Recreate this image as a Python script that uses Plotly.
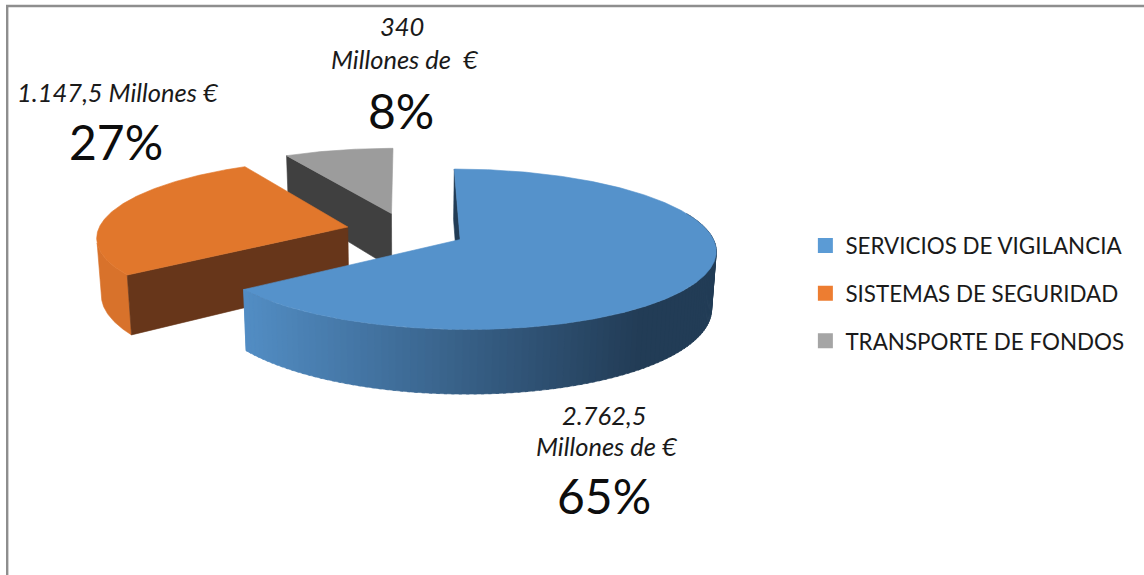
import math
import plotly.graph_objects as go

# ---- data ----
categories = ["SERVICIOS DE VIGILANCIA", "SISTEMAS DE SEGURIDAD", "TRANSPORTE DE FONDOS"]
values = [2762.5, 1147.5, 340.0]
percent_labels = ["65%", "27%", "8%"]
amount_lines = [["2.762,5", "Millones de €"],
                ["1.147,5 Millones €"],
                ["340", "Millones de\u00a0 €"]]
legend_colors = ["#5b9bd5", "#ed7d31", "#a5a5a5"]
top_colors = ["#5592cb", "#e1772c", "#9c9c9c"]
side_colors = ["#223c56", "#67361a", "#404040"]
orange_wall = "#d8722b"

# ---- projection of the exploded, tilted pie ----
CX, CY, RX, RY = 406.0, 231.0, 250.0, 77.0
PERSP, EXPLODE, DEPTH, SHRINK = 0.12, 0.24, 56.0, 0.985
FONT = "Lato"

total = sum(values)
spans = []
a = 0.0
for v in values:
    spans.append((a, a + v / total * 360))
    a += v / total * 360


def proj(theta, mid, radius=1.0, bottom=False):
    ex, ey = EXPLODE * math.sin(math.radians(mid)), EXPLODE * math.cos(math.radians(mid))
    u = ex + radius * math.sin(math.radians(theta))
    v = ey + radius * math.cos(math.radians(theta))
    w = 1 / (1 + PERSP * v)
    x = RX * u * w
    y = CY - RY * v * w
    if bottom:
        return CX + x * SHRINK, y + DEPTH * w
    return CX + x, y


def arc(t0, t1, mid, bottom=False, n=None):
    n = n or max(2, int(abs(t1 - t0) * 2))
    return [proj(t0 + (t1 - t0) * i / n, mid, 1.0, bottom) for i in range(n + 1)]


fig = go.Figure()


def poly(pts, color):
    xs = [p[0] for p in pts] + [pts[0][0]]
    ys = [p[1] for p in pts] + [pts[0][1]]
    fig.add_trace(go.Scatter(x=xs, y=ys, mode="lines", fill="toself", fillcolor=color,
                             line=dict(color=color, width=0.6), hoverinfo="skip", showlegend=False))


def lerp_hex(c0, c1, f):
    f = max(0.0, min(1.0, f))
    p = [int(c0[i:i + 2], 16) for i in (1, 3, 5)]
    q = [int(c1[i:i + 2], 16) for i in (1, 3, 5)]
    return "rgb(%d,%d,%d)" % tuple(round(p[i] + (q[i] - p[i]) * f) for i in range(3))


# gray slice (back)
s0, s1 = spans[2]
mid = (s0 + s1) / 2
poly([proj(s0, mid), proj(s0, mid, 0.0), proj(s0, mid, 0.0, True), proj(s0, mid, 1.0, True)], side_colors[2])
poly(arc(s0, s1, mid) + [proj(0, mid, 0.0)], top_colors[2])

# orange slice
s0, s1 = spans[1]
mid = (s0 + s1) / 2
poly(arc(s0, 258, mid) + arc(258, s0, mid, True), orange_wall)
poly([proj(s0, mid), proj(s0, mid, 0.0), proj(s0, mid, 0.0, True), proj(s0, mid, 1.0, True)], side_colors[1])
poly(arc(s0, s1, mid) + [proj(0, mid, 0.0)], top_colors[1])

# blue slice (front)
s0, s1 = spans[0]
mid = (s0 + s1) / 2
poly([proj(s0, mid), proj(s0, mid, 0.0), proj(s0, mid, 0.0, True), proj(s0, mid, 1.0, True)], side_colors[0])
t = 70.0
step = 1.5
tip_x = proj(s1, mid)[0]
while t < s1:
    t2 = min(t + step + 0.6, s1)
    xm = proj(t + step / 2, mid)[0]
    f = (xm - tip_x) / (640 - tip_x)
    poly(arc(t, t2, mid, False, 2) + arc(t2, t, mid, True, 2), lerp_hex("#528dc4", side_colors[0], f))
    t += step
poly(arc(s0, s1, mid) + [proj(0, mid, 0.0)], top_colors[0])

# legend entries
for i, name in enumerate(categories):
    fig.add_trace(go.Scatter(x=[None], y=[None], mode="markers", name=name,
                             legendgroup=name,
                             marker=dict(symbol="square", size=15, color=legend_colors[i])))

# labels
anns = []
label_pos = [((604, 415), (607, 446), (604, 495)),
             ((118, 92), None, (116, 141)),
             ((402, 26), (405, 59), (401, 110))]
for i in range(3):
    pos = label_pos[i]
    lines = amount_lines[i]
    anns.append(dict(x=pos[0][0], y=pos[0][1], text=lines[0]))
    if len(lines) > 1:
        anns.append(dict(x=pos[1][0], y=pos[1][1], text=lines[1]))
    for d in anns[-len(lines):]:
        d.update(font=dict(family=FONT, size=25.5, color="#1a1a1a", style="italic"))
    anns.append(dict(x=pos[2][0], y=pos[2][1], text=percent_labels[i],
                     font=dict(family=FONT, size=48, color="#0d0d0d")))
for d in anns:
    d.update(xref="x", yref="y", showarrow=False, xanchor="center", yanchor="middle")

fig.update_layout(
    width=1144, height=575, autosize=False,
    margin=dict(l=0, r=0, t=0, b=0),
    paper_bgcolor="white", plot_bgcolor="white",
    xaxis=dict(range=[0, 1144], visible=False, fixedrange=True),
    yaxis=dict(range=[575, 0], visible=False, fixedrange=True),
    annotations=anns,
    shapes=[dict(type="path", xref="x", yref="y", path="M7.2,575 L7.2,6 L1144,6",
                 line=dict(color="#8e8e8e", width=2.4), layer="below")],
    legend=dict(x=0.704, y=0.6095, xanchor="left", yanchor="top", tracegroupgap=15.5,
                font=dict(family=FONT, size=22.4, color="#1a1a1a"),
                bgcolor="rgba(0,0,0,0)"),
    showlegend=True,
)
fig.write_html("out.html", post_script="document.body.style.margin='0';",
               config={"displayModeBar": False})
